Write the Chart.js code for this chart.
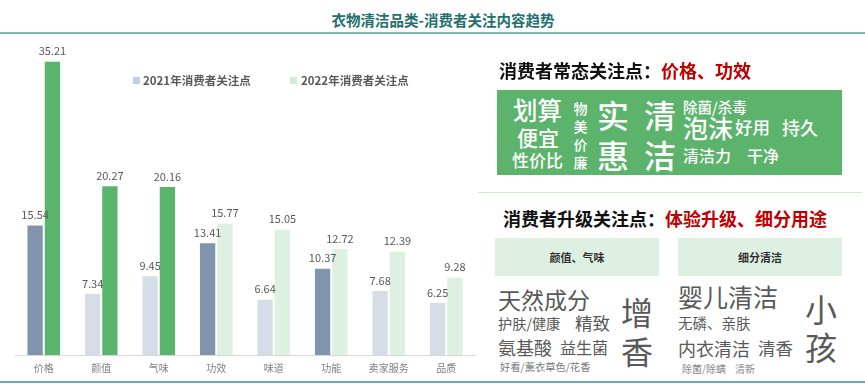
<!DOCTYPE html>
<html><head><meta charset="utf-8">
<script src="https://cdn.jsdelivr.net/npm/chart.js@4.4.1/dist/chart.umd.min.js"></script>
<style>
html,body{margin:0;padding:0;background:#fff;}
body{width:865px;height:392px;position:relative;overflow:hidden;font-family:"Noto Sans CJK SC","Noto Sans",sans-serif;}
.a{position:absolute;white-space:nowrap;line-height:1;}
#title{left:0;width:886px;top:13px;text-align:center;font-size:14.5px;font-weight:bold;color:#23706e;}
#topline{left:0;top:32px;width:865px;height:2px;background:#7fb6b6;}
#botline{left:0;top:381px;width:865px;height:2px;background:#6aaeae;}
#midline{left:478px;top:192px;width:384px;height:1px;background:#cfe8d3;}
#cv{position:absolute;left:0;top:36px;width:480px;height:345px;}
.lg{font-size:11.5px;font-weight:bold;color:#595959;}
.sq{position:absolute;width:7px;height:7px;}
.h{font-size:18px;font-weight:bold;color:#111;}
.h span{color:#c00000;}
#gbox{left:497px;top:90px;width:345px;height:85px;background:#5cb36b;}
.w{color:#fff;font-weight:500;}
.lb{background:#ddf0e1;height:38px;top:238px;width:164px;font-size:11px;font-weight:bold;color:#333;display:flex;align-items:center;justify-content:center;}
.g{color:#595959;}
</style></head><body>
<div class="a" id="title">衣物清洁品类-消费者关注内容趋势</div>
<div class="a" id="topline"></div>
<div class="a" id="botline"></div>
<div class="a" id="midline"></div>
<canvas id="cv" width="480" height="345"></canvas>

<div class="sq" style="left:133px;top:77px;background:#c7cedb"></div>
<div class="a lg" style="left:143px;top:75px">2021年消费者关注点</div>
<div class="sq" style="left:290px;top:77px;background:#d3ebd8"></div>
<div class="a lg" style="left:301px;top:75px">2022年消费者关注点</div>

<div class="a h" style="left:499px;top:61px">消费者常态关注点：<span>价格、功效</span></div>
<div class="a" id="gbox"></div>
<div class="a w" style="left:513px;top:98px;font-size:24.5px">划算</div>
<div class="a w" style="left:517px;top:127px;font-size:21px">便宜</div>
<div class="a w" style="left:512px;top:151px;font-size:17px">性价比</div>
<div class="a w" style="left:573px;top:99px;font-size:14px;line-height:18px;width:15px;white-space:normal;text-align:center">物美价廉</div>
<div class="a w" style="left:597px;top:94px;font-size:32px;line-height:40px;width:32px;white-space:normal">实惠</div>
<div class="a w" style="left:644px;top:94px;font-size:32px;line-height:40px;width:32px;white-space:normal">清洁</div>
<div class="a w" style="left:683px;top:100px;font-size:14.5px">除菌/杀毒</div>
<div class="a w" style="left:683px;top:115px;font-size:25px">泡沫</div>
<div class="a w" style="left:735px;top:118px;font-size:17.5px">好用</div>
<div class="a w" style="left:782px;top:118px;font-size:18px">持久</div>
<div class="a w" style="left:683px;top:147px;font-size:16px">清洁力</div>
<div class="a w" style="left:747px;top:147px;font-size:16px">干净</div>

<div class="a h" style="left:503px;top:209px">消费者升级关注点：<span>体验升级、细分用途</span></div>
<div class="a lb" style="left:495px">颜值、气味</div>
<div class="a lb" style="left:678px">细分清洁</div>

<div class="a g" style="left:498px;top:288px;font-size:23px">天然成分</div>
<div class="a g" style="left:498px;top:316px;font-size:14.2px">护肤/健康</div>
<div class="a g" style="left:575px;top:314px;font-size:17.5px">精致</div>
<div class="a g" style="left:498px;top:338px;font-size:18px">氨基酸</div>
<div class="a g" style="left:560px;top:339px;font-size:16px">益生菌</div>
<div class="a" style="left:500px;top:362px;font-size:10.3px;color:#7a7a7a">好看/薰衣草色/花香</div>
<div class="a g" style="left:621px;top:292px;font-size:32px;line-height:39px;width:32px;white-space:normal">增香</div>

<div class="a g" style="left:678px;top:284px;font-size:25px">婴儿清洁</div>
<div class="a g" style="left:678px;top:316px;font-size:14.5px">无磷、亲肤</div>
<div class="a g" style="left:678px;top:339px;font-size:18px">内衣清洁</div>
<div class="a g" style="left:758px;top:339px;font-size:17.5px">清香</div>
<div class="a" style="left:682px;top:364px;font-size:10px;color:#8a8a8a">除菌/除螨</div>
<div class="a" style="left:735px;top:364px;font-size:10px;color:#8a8a8a">清新</div>
<div class="a g" style="left:805px;top:289px;font-size:32px;line-height:38px;width:32px;white-space:normal">小孩</div>

<script>
const categories = ["价格","颜值","气味","功效","味道","功能","卖家服务","品质"];
const seriesNames = ["2021年消费者关注点","2022年消费者关注点"];
const values2021 = [15.54,7.34,9.45,13.41,6.64,10.37,7.68,6.25];
const values2022 = [35.21,20.27,20.16,15.77,15.05,12.72,12.39,9.28];

const c21dark="#8094ae", c21light="#d6dde7", c22dark="#5bb46b", c22light="#ddf0e2";
const colors2021=[c21dark,c21light,c21light,c21dark,c21light,c21dark,c21light,c21light];
const colors2022=[c22dark,c22dark,c22dark,c22light,c22light,c22light,c22light,c22light];

const labelPlugin={id:'vals',afterDatasetsDraw(chart){
  const ctx=chart.ctx;ctx.save();
  ctx.font='11px "Noto Sans CJK SC", sans-serif';ctx.fillStyle='#595959';
  ctx.textAlign='center';ctx.textBaseline='bottom';
  chart.data.datasets.forEach((ds,i)=>{
    chart.getDatasetMeta(i).data.forEach((bar,j)=>{
      ctx.fillText(ds.data[j].toFixed(2),bar.x,bar.y-5);
    });
  });
  ctx.restore();
}};

new Chart(document.getElementById('cv'),{
  type:'bar',
  data:{labels:categories,datasets:[
    {label:seriesNames[0],data:values2021,backgroundColor:colors2021,categoryPercentage:0.602,barPercentage:0.885},
    {label:seriesNames[1],data:values2022,backgroundColor:colors2022,categoryPercentage:0.602,barPercentage:0.885}
  ]},
  options:{
    responsive:false,animation:false,devicePixelRatio:1,
    layout:{padding:{left:15,right:5,top:0,bottom:0}},
    plugins:{legend:{display:false},tooltip:{enabled:false}},
    scales:{
      x:{grid:{display:false,drawTicks:false},border:{display:true,color:'#d9d9d9',width:1},
         ticks:{padding:7,color:'#7f7f7f',font:{size:10,family:'"Noto Sans CJK SC", sans-serif'}}},
      y:{display:false,min:0,max:38.3}
    }
  },
  plugins:[labelPlugin]
});
</script>
</body></html>
